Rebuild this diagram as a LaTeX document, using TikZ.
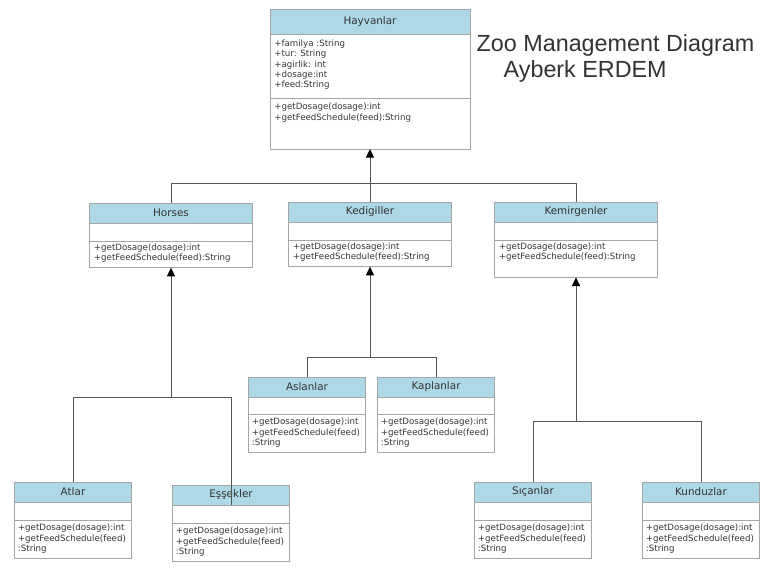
\documentclass[tikz,border=0pt]{standalone}
\usepackage{fontspec}
\setmainfont{DejaVu Sans}
\newfontfamily\titlefont{Liberation Sans}
\usetikzlibrary{arrows.meta,positioning}
\definecolor{headblue}{RGB}{173,216,230}
\definecolor{boxgray}{RGB}{165,165,165}
\definecolor{linegray}{RGB}{85,85,85}
\definecolor{textgray}{RGB}{51,51,51}

\begin{document}
\begin{tikzpicture}[x=0.75pt,y=-0.75pt]
		\tikzstyle{Head}	= [draw=boxgray, fill=headblue, anchor=north, outer sep=0pt, inner sep=0pt, minimum height=15pt, text=textgray, font=\fontsize{7.8}{9}\selectfont]
		\tikzstyle{Part}	= [draw=boxgray, fill=white, outer sep=0pt, inner sep=0pt, minimum height=13.5pt]
		\tikzstyle{Members}	= [inner sep=0pt, anchor=north west, align=left, text=textgray, font=\fontsize{6.5}{7.7}\selectfont]
		\tikzstyle{Small}	= [minimum width=88pt]
		\tikzstyle{Mid}		= [minimum width=122pt]
		\tikzstyle{Link}	= [draw=linegray, line width=0.75pt]
		\tikzstyle{Gen}		= [Link, -{Triangle[width=6pt,length=6.5pt,color=black]}]
		\tikzstyle{Title}	= [anchor=base west, text=textgray, font=\titlefont\fontsize{17.5}{20}\selectfont]

		\useasboundingbox [fill=white] (0,0) rectangle (777,585);

		% base class
		\node (hay) at (370,9) [Head, minimum width=150pt, minimum height=19pt] {Hayvanlar};
		\node (hay-a) [Part, minimum width=150pt, minimum height=48pt, below=0pt of hay] {};
		\node (hay-m) [Part, minimum width=150pt, minimum height=38pt, below=0pt of hay-a] {};
		\node (hay-at) [Members, below right=4pt and 3pt of hay-a.north west] {+familya :String\\+tur: String\\+agirlik: int\\+dosage:int\\+feed:String};
		\node (hay-mt) [Members, below right=3.5pt and 3pt of hay-m.north west] {+getDosage(dosage):int\\+getFeedSchedule(feed):String};

		\node (title) at (472,52) [Title] {Zoo Management Diagram};
		\node (author) at (499,78) [Title] {Ayberk ERDEM};

		% second level
		\node (hor) at (171,203) [Head, Mid] {Horses};
		\node (hor-a) [Part, Mid, below=0pt of hor] {};
		\node (hor-m) [Part, Mid, minimum height=20pt, below=0pt of hor-a] {};
		\node (hor-mt) [Members, below right=2pt and 3pt of hor-m.north west] {+getDosage(dosage):int\\+getFeedSchedule(feed):String};

		\node (ked) at (370,202) [Head, Mid] {Kedigiller};
		\node (ked-a) [Part, Mid, below=0pt of ked] {};
		\node (ked-m) [Part, Mid, minimum height=20pt, below=0pt of ked-a] {};
		\node (ked-mt) [Members, below right=2pt and 3pt of ked-m.north west] {+getDosage(dosage):int\\+getFeedSchedule(feed):String};

		\node (kem) at (576,202) [Head, Mid] {Kemirgenler};
		\node (kem-a) [Part, Mid, below=0pt of kem] {};
		\node (kem-m) [Part, Mid, minimum height=28pt, below=0pt of kem-a] {};
		\node (kem-mt) [Members, below right=2pt and 3pt of kem-m.north west] {+getDosage(dosage):int\\+getFeedSchedule(feed):String};

		% third level
		\node (asl) at (307,377) [Head, Small] {Aslanlar};
		\node (asl-a) [Part, Small, minimum height=12.75pt, below=0pt of asl] {};
		\node (asl-m) [Part, Small, minimum height=28.5pt, below=0pt of asl-a] {};
		\node (asl-mt) [Members, below right=3pt and 2.5pt of asl-m.north west] {+getDosage(dosage):int\\+getFeedSchedule(feed)\\:String};

		\node (kap) at (436,377) [Head, Small] {Kaplanlar};
		\node (kap-a) [Part, Small, minimum height=12.75pt, below=0pt of kap] {};
		\node (kap-m) [Part, Small, minimum height=28.5pt, below=0pt of kap-a] {};
		\node (kap-mt) [Members, below right=3pt and 2.5pt of kap-m.north west] {+getDosage(dosage):int\\+getFeedSchedule(feed)\\:String};

		\node (atl) at (73,482) [Head, Small] {Atlar};
		\node (atl-a) [Part, Small, below=0pt of atl] {};
		\node (atl-m) [Part, Small, minimum height=28.5pt, below=0pt of atl-a] {};
		\node (atl-mt) [Members, below right=3pt and 2.5pt of atl-m.north west] {+getDosage(dosage):int\\+getFeedSchedule(feed)\\:String};

		\node (ess) at (231,485) [Head, Small] {Eşşekler};
		\node (ess-a) [Part, Small, below=0pt of ess] {};
		\node (ess-m) [Part, Small, minimum height=28.5pt, below=0pt of ess-a] {};
		\node (ess-mt) [Members, below right=3pt and 2.5pt of ess-m.north west] {+getDosage(dosage):int\\+getFeedSchedule(feed)\\:String};

		\node (sic) at (533,482) [Head, Small] {Sıçanlar};
		\node (sic-a) [Part, Small, below=0pt of sic] {};
		\node (sic-m) [Part, Small, minimum height=28.5pt, below=0pt of sic-a] {};
		\node (sic-mt) [Members, below right=3pt and 2.5pt of sic-m.north west] {+getDosage(dosage):int\\+getFeedSchedule(feed)\\:String};

		\node (kun) at (701,482) [Head, Small] {Kunduzlar};
		\node (kun-a) [Part, Small, below=0pt of kun] {};
		\node (kun-m) [Part, Small, minimum height=28.5pt, below=0pt of kun-a] {};
		\node (kun-mt) [Members, below right=3pt and 2.5pt of kun-m.north west] {+getDosage(dosage):int\\+getFeedSchedule(feed)\\:String};

		% inheritance
		\coordinate (j-hay) at (370,183);
		\coordinate (j-hor) at (171,397);
		\coordinate (j-ked) at (370,357);
		\coordinate (j-kem) at (576,421);

		\draw [Gen] (j-hay) to (hay-m.south);
		\draw [Link] (hor.north) |- (j-hay);
		\draw [Link] (ked.north) to (j-hay);
		\draw [Link] (kem.north) |- (j-hay);

		\draw [Gen] (j-hor) to (hor-m.south);
		\draw [Link] (atl.north) |- (j-hor);
		\draw [Link] (ess-a.north) |- (j-hor);

		\draw [Gen] (j-ked) to (ked-m.south);
		\draw [Link] (asl.north) |- (j-ked);
		\draw [Link] (kap.north) |- (j-ked);

		\draw [Gen] (j-kem) to (kem-m.south);
		\draw [Link] (sic.north) |- (j-kem);
		\draw [Link] (kun.north) |- (j-kem);
\end{tikzpicture}
\end{document}
